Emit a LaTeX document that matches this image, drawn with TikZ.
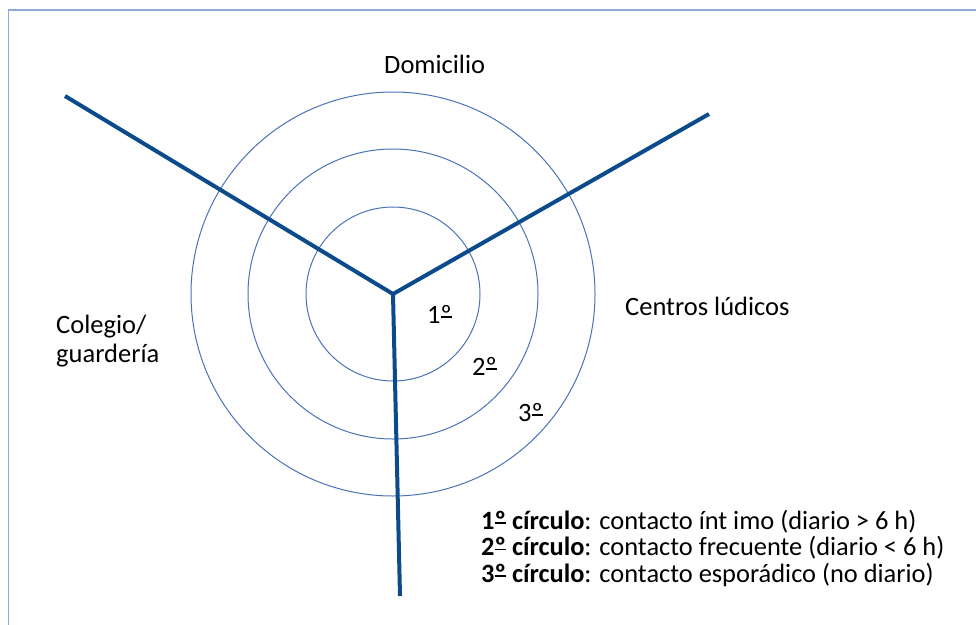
\documentclass[tikz,border=0pt]{standalone}
\usepackage{fontspec}
\setmainfont{Carlito}
\definecolor{spoke}{HTML}{0B4A8B}
\definecolor{ring}{HTML}{4A72B8}
\definecolor{frame}{HTML}{8EAADB}
\newcommand\myordm{\setbox0\hbox{º}\rlap{\rule[0.2em]{\wd0}{0.06em}}º}
\tikzset{
  spokeline/.style={draw=spoke,line width=4pt},
  ringline/.style={draw=ring,line width=1pt},
  lbl/.style={inner sep=0pt,font=\fontsize{26.5}{30}\selectfont,anchor=base west},
  leg/.style={inner sep=0pt,font=\fontsize{26.4}{30}\selectfont,anchor=base west}
}
\begin{document}
\begin{tikzpicture}[x=1pt,y=-1pt]
\useasboundingbox (0,0) rectangle (976,624);
\draw[draw=frame,line width=1.8pt] (8.5,10) rectangle (990,640);
\coordinate (c) at (393,294);
\coordinate (ul) at (65,96);
\coordinate (ur) at (709,114);
\coordinate (bt) at (400,596);
\draw[ringline] (c) circle[radius=87];
\draw[ringline] (c) circle[radius=145];
\draw[ringline] (c) circle[radius=202];
\draw[spokeline,line join=miter] (ul) -- (c) -- (ur);
\draw[spokeline] (c) -- (bt);
\node[lbl] (dom) at (384,73) {Domicilio};
\node[lbl] (cen) at (625,315) {Centros lúdicos};
\node[lbl] (col) at (56,333) {Colegio/};
\node[lbl] (gua) at (56,362) {guardería};
\node[lbl] (r1) at (427,323) {1\myordm};
\node[lbl] (r2) at (472,375) {2\myordm};
\node[lbl] (r3) at (518,421) {3\myordm};
\node[leg] (l1) at (481,529) {\textbf{1\myordm{} círculo}: contacto ínt imo (diario > 6 h)};
\node[leg] (l2) at (481,555.5) {\textbf{2\myordm{} círculo}: contacto frecuente (diario < 6 h)};
\node[leg] (l3) at (481,582) {\textbf{3\myordm{} círculo}: contacto esporádico (no diario)};
\end{tikzpicture}
\end{document}
